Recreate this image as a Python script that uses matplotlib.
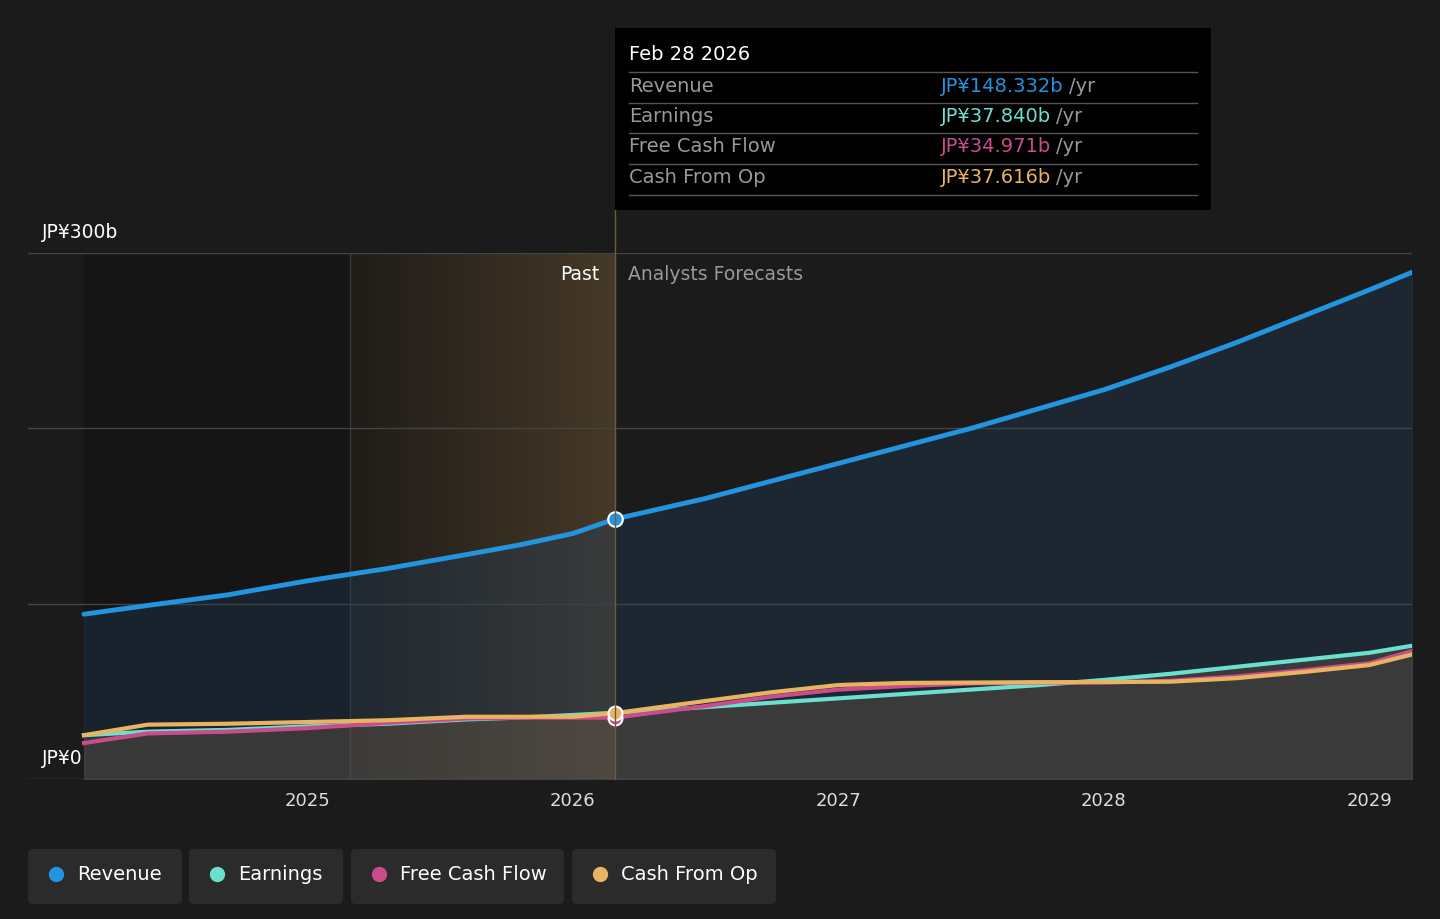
import numpy as np
import matplotlib.pyplot as plt
from matplotlib.patches import FancyBboxPatch, Rectangle
from matplotlib.lines import Line2D
from matplotlib.colors import LinearSegmentedColormap

# values (JP¥ billions)
years = [2024.16, 2024.4, 2024.7, 2025.0, 2025.3, 2025.6, 2025.8, 2026.0, 2026.16,
         2026.5, 2026.75, 2027.0, 2027.25, 2027.5, 2027.75, 2028.0, 2028.25,
         2028.5, 2028.75, 2029.0, 2029.16]
revenue = [94, 99, 105, 113, 120, 128, 133.5, 140, 148.3,
           160, 170, 180, 190, 200, 211, 222, 235, 249, 264, 279, 289]
earnings = [25, 27, 28, 30, 31.5, 34, 35, 36.5, 37.8,
            41, 43.5, 46, 48.5, 51, 53.5, 56.5, 60, 64, 68, 72, 76]
fcf = [20.5, 26, 27, 29, 32, 34.5, 35, 35, 35,
       41.6, 47, 51, 53, 54.5, 55, 55, 56, 58.5, 62, 66, 73]
cfo = [25, 31, 31.5, 32.5, 33.5, 35.5, 35.5, 35.5, 37.6,
       44.5, 49.5, 53.6, 54.8, 55, 55.2, 55.3, 55.5, 57.5, 61, 65, 71]
past_end = 2026.16
past_start = 2025.16

BG = '#1b1b1b'
C_REV, C_EARN, C_FCF, C_CFO = '#2394df', '#6ce0cf', '#c94d8c', '#e9b462'

W, H = 1440, 919
fig = plt.figure(figsize=(14.4, 9.19), dpi=100, facecolor=BG)
ax = fig.add_axes([28 / W, (H - 779) / H, (1412 - 28) / W, (779 - 253) / H])
ax.set_facecolor(BG)
x0, x1 = 2024.16 - 56 / 265.5, 2029.16
ax.set_xlim(x0, x1)
ax.set_ylim(0, 300)

# dark past area and gradient highlight
ax.axvspan(2024.16, past_start, color='#151515', zorder=0)
grad = np.linspace(0, 1, 256).reshape(1, -1)
cm = LinearSegmentedColormap.from_list('p', ['#1f1c18', '#463928'])
ax.imshow(grad, extent=[past_start, past_end, 0, 300], aspect='auto', cmap=cm, zorder=0.5)
ax.axvline(past_start, color='#3a3a3a', lw=1, zorder=1)

for yv in [100, 200, 300]:
    ax.axhline(yv, color='#444444', lw=1, zorder=1)
ax.axhline(0, color='#555555', lw=1, zorder=1)

ax.fill_between(years, earnings, revenue, color='#22405e', alpha=0.35, zorder=2)
ax.fill_between(years, 0, earnings, color='#555555', alpha=0.55, zorder=2)

ax.plot(years, revenue, color=C_REV, lw=3.5, zorder=5, solid_capstyle='round')
ax.plot(years, earnings, color=C_EARN, lw=3, zorder=4)
ax.plot(years, fcf, color=C_FCF, lw=3, zorder=4)
ax.plot(years, cfo, color=C_CFO, lw=3, zorder=4)

ax.scatter([past_end], [148.3], s=110, color=C_REV, edgecolor='white', lw=1.5, zorder=6)
ax.scatter([past_end], [35], s=100, color=C_FCF, edgecolor='white', lw=1.5, zorder=6)
ax.scatter([past_end], [37.6], s=100, color=C_CFO, edgecolor='white', lw=1.5, zorder=7)

ax.set_xticks([2025, 2026, 2027, 2028, 2029])
ax.set_xticklabels(['2025', '2026', '2027', '2028', '2029'])
ax.tick_params(axis='x', colors='#dddddd', labelsize=13, length=0, pad=9)
ax.set_yticks([])
for s in ax.spines.values():
    s.set_visible(False)

ax.text(past_end - 0.06, 288, 'Past', color='white', fontsize=13.5, ha='right', va='center')
ax.text(past_end + 0.05, 288, 'Analysts Forecasts', color='#999999', fontsize=13.5, ha='left', va='center')

fig.text(42 / W, 1 - 232 / H, 'JP¥300b', color='white', fontsize=13.5, va='center')
fig.text(42 / W, 1 - 758 / H, 'JP¥0', color='white', fontsize=13.5, va='center')

# vertical line to tooltip
fig.add_artist(Line2D([615 / W, 615 / W], [1 - 779 / H, 1 - 210 / H], color='#6b5d45', lw=1))

# tooltip
fig.add_artist(Rectangle((615 / W, 1 - 210 / H), (1211 - 615) / W, (210 - 28) / H,
                         facecolor='black', edgecolor='none'))
fig.text(629 / W, 1 - 55 / H, 'Feb 28 2026', color='white', fontsize=14, va='center')
rows = [('Revenue', 'JP¥148.332b', C_REV), ('Earnings', 'JP¥37.840b', C_EARN),
        ('Free Cash Flow', 'JP¥34.971b', C_FCF), ('Cash From Op', 'JP¥37.616b', C_CFO)]
for i, (name, val, c) in enumerate(rows):
    yc = 86 + i * 30.5
    fig.add_artist(Line2D([629 / W, 1197 / W], [1 - (yc - 14) / H] * 2, color='#555555', lw=1))
    fig.text(629 / W, 1 - yc / H, name, color='#999999', fontsize=14, va='center')
    t = fig.text(941 / W, 1 - yc / H, val, color=c, fontsize=14, va='center')
    fig.canvas.draw()
    bb = t.get_window_extent()
    fig.text(bb.x1 / W + 5 / W, 1 - yc / H, '/yr', color='#999999', fontsize=14, va='center')
fig.add_artist(Line2D([629 / W, 1197 / W], [1 - 195 / H] * 2, color='#555555', lw=1))

# legend buttons
items = [('Revenue', C_REV, 28, 182), ('Earnings', C_EARN, 189, 343),
         ('Free Cash Flow', C_FCF, 351, 564), ('Cash From Op', C_CFO, 572, 776)]
for name, c, l, r in items:
    fig.add_artist(FancyBboxPatch((l / W, 1 - 904 / H), (r - l) / W, (904 - 849) / H,
                                  boxstyle='round,pad=0,rounding_size=0.004',
                                  facecolor='#2b2b2b', edgecolor='none'))
    fig.add_artist(Line2D([(l + 28) / W], [1 - 874 / H], marker='o', ms=10, color=c, lw=0))
    fig.text((l + 49) / W, 1 - 874 / H, name, color='white', fontsize=14, va='center')

fig.savefig('out.png', dpi=100, facecolor=BG)
